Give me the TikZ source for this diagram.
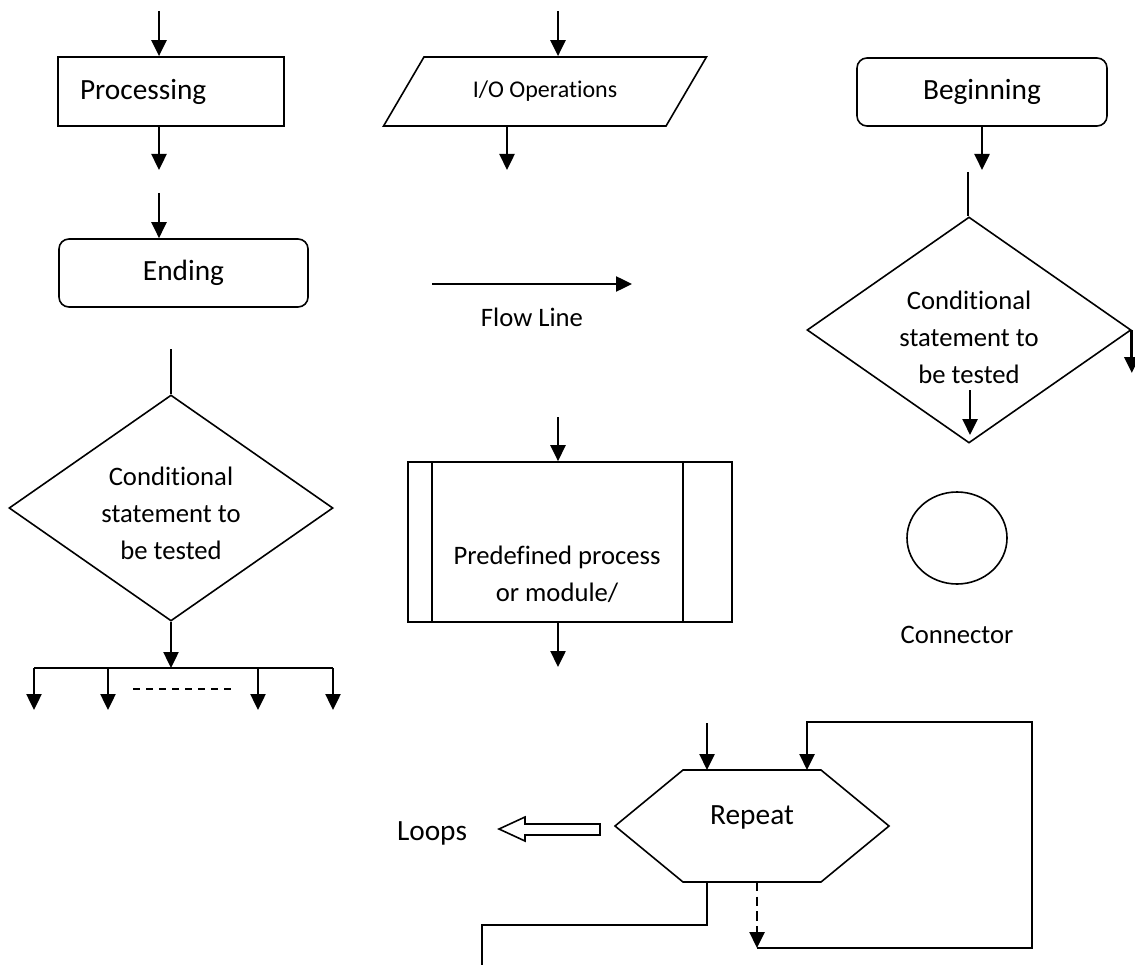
\documentclass[tikz,border=0pt]{standalone}
\usepackage{fontspec}
\setmainfont{Carlito}[Ligatures=NoCommon]
\usetikzlibrary{arrows.meta}
\usetikzlibrary{shapes.geometric}

\begin{document}
\begin{tikzpicture}[x=0.375pt,y=-0.375pt,
  box/.style={draw,line width=0.6pt,inner sep=0pt},
  plain/.style={line width=0.6pt},
  flow/.style={line width=1pt,-{Triangle[length=6pt,width=5.6pt]}},
  big/.style={font=\fontsize{11}{13.2}\selectfont},
  small/.style={font=\fontsize{10}{13.9}\selectfont,align=center}]
\useasboundingbox (0,0) rectangle (1135,965);

\node[box,big,minimum height=25.9pt,inner xsep=8.25pt,text width=68.25pt,align=left] (proc) at (171,91.5) {Processing};
\node[box,big,rounded corners=3.75pt,minimum width=93.4pt,minimum height=25.5pt] (ending) at (183.5,273) {Ending};
\coordinate (p0) at (159,11);
\coordinate (p1) at (159,170);
\coordinate (e0) at (159,193);
\draw[flow] (p0) -- (p0 |- proc.north);
\draw[flow] (p1 |- proc.south) -- (p1);
\draw[flow] (e0) -- (e0 |- ending.north);

\node[box,trapezium,trapezium stretches=true,trapezium left angle=40.4,trapezium right angle=139.6,
  minimum width=121.5pt,minimum height=25.9pt,font=\fontsize{9}{11}\selectfont] (io) at (545,91.5) {I/O Operations};
\coordinate (io0) at (558,11);
\coordinate (io1) at (507,170);
\draw[flow] (io0) -- (io0 |- io.north);
\draw[flow] (io1 |- io.south) -- (io1);

\coordinate (fl0) at (432,284);
\coordinate (fl1) at (632,284);
\draw[flow] (fl0) -- (fl1);
\node[small] (fltxt) at (532,317) {Flow Line};

\node[box,big,rounded corners=3.75pt,minimum width=93.75pt,minimum height=25.5pt] (begin) at (982,92) {Beginning};
\coordinate (b1) at (982,170);
\draw[flow] (begin.south) -- (b1);
\node[box,diamond,minimum width=121.5pt,minimum height=84.75pt] (condA) at (969,330) {};
\node[small] (condAtxt) at (969,337) {Conditional\\statement to\\be tested};
\coordinate (cA0) at (968,172);
\coordinate (cA1) at (970,390);
\coordinate (cA2) at (970,435);
\draw[plain] (cA0) -- (cA0 |- condA.north);
\draw[flow] (cA1) -- (cA2);
\draw[flow] (condA.east) -- ++(0,43);

\node[box,diamond,minimum width=121.5pt,minimum height=84.75pt] (condB) at (171,508) {};
\node[small] (condBtxt) at (171,513) {Conditional\\statement to\\be tested};
\coordinate (cB0) at (171,349);
\coordinate (fork) at (171,668);
\draw[plain] (cB0) -- (condB.north);
\draw[flow] (condB.south) -- (fork);
\draw[plain] (34,668) -- (333,668);
\foreach \x in {34,108,258,333}
  \draw[flow] (\x,668) -- (\x,710);
\draw[plain,dash pattern=on 2.6pt off 2.3pt] (133,689) -- (233,689);

\node[box,minimum width=121.5pt,minimum height=60pt] (pre) at (570,542) {};
\draw[plain] (pre.north west) ++(25,0) -- ++(0,160);
\draw[plain] (pre.north east) ++(-50,0) -- ++(0,160);
\node[small] (pretxt) at (557,574) {Predefined process\\or module/};
\coordinate (pr0) at (558,417);
\coordinate (pr1) at (558,667);
\draw[flow] (pr0) -- (pr0 |- pre.north);
\draw[flow] (pr1 |- pre.south) -- (pr1);

\node[box,ellipse,minimum width=37.5pt,minimum height=34.5pt] (conn) at (957,538) {};
\node[small] (conntxt) at (957,635) {Connector};

\draw[plain] (615,826) -- (683,770) -- (821,770) -- (889,826) -- (821,882) -- (683,882) -- cycle;
\node[big] (rep) at (752,817) {Repeat};
\coordinate (r0) at (707,723);
\coordinate (r1) at (807,770);
\coordinate (r2) at (757,882);
\coordinate (r3) at (757,948);
\draw[flow] (r0) -- (707,770);
\draw[flow,dash pattern=on 3.5pt off 2pt] (r2) -- (r3);
\draw[flow] (r3) -| (1032,722) -| (r1);
\draw[plain] (707,882) |- (482,925) -- (482,965);

\node[big] (loops) at (432,833) {Loops};
\draw[plain] (499,829) -- (525,817) -- (525,824) -- (600,824) -- (600,835) -- (525,835) -- (525,841) -- cycle;
\end{tikzpicture}
\end{document}
